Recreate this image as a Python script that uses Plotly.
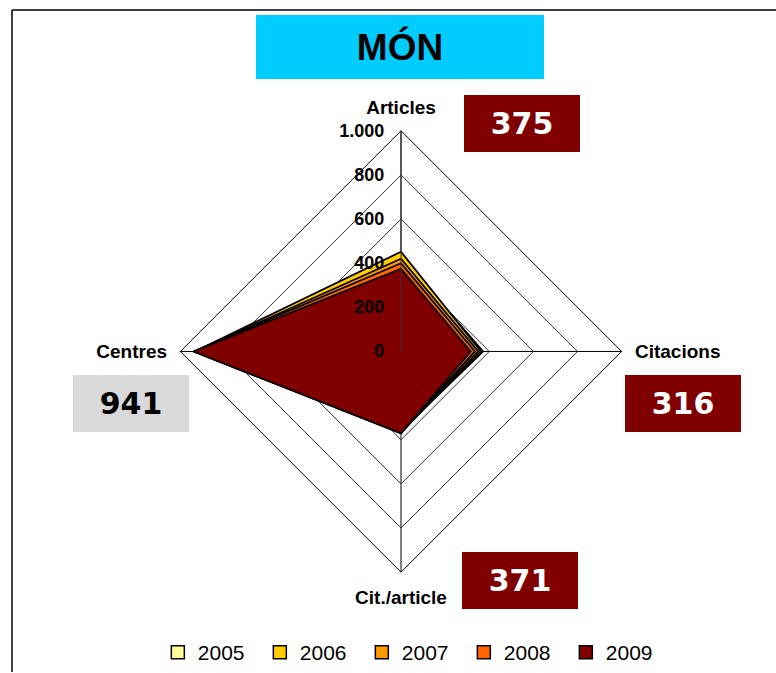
import plotly.graph_objects as go

W, H = 776, 673

categories = ["Articles", "Citacions", "Cit./article", "Centres"]
years = ["2005", "2006", "2007", "2008", "2009"]
values_2005 = [430, 372, 360, 930]
values_2006 = [452, 362, 365, 935]
values_2007 = [420, 350, 368, 938]
values_2008 = [400, 335, 370, 940]
values_2009 = [375, 316, 371, 941]
series = [values_2005, values_2006, values_2007, values_2008, values_2009]
colors = ["#FFFF99", "#FFCC00", "#FF9900", "#FF6600", "#800000"]

radial_ticks = [0, 200, 400, 600, 800, 1000]
radial_ticktext = ["0", "200", "400", "600", "800", "1.000"]

box_values = {"Articles": "375", "Citacions": "316", "Cit./article": "371", "Centres": "941"}
title_text = "MÓN"

fig = go.Figure()
for yr, vals, col in zip(years, series, colors):
    fig.add_trace(go.Scatterpolar(
        r=vals + [vals[0]], theta=categories + [categories[0]],
        mode="lines", fill="toself", fillcolor=col,
        line=dict(color="black", width=1.8),
        name=yr, showlegend=False, hoverinfo="skip"))
for yr, col in zip(years, colors):
    fig.add_trace(go.Scatterpolar(
        r=[None], theta=[categories[0]], mode="markers", name=yr,
        marker=dict(symbol="square", size=13, color=col, line=dict(color="black", width=1.5))))

def px(x):
    return x / W

def py(y):
    return 1 - y / H

cx, cy, rad = 401, 352, 221
fig.update_layout(
    width=W, height=H,
    margin=dict(l=0, r=0, t=0, b=0),
    paper_bgcolor="white", plot_bgcolor="white",
    font=dict(family="Arial, Liberation Sans", color="black"),
    polar=dict(
        domain=dict(x=[px(cx - rad), px(cx + rad)], y=[py(cy + rad), py(cy - rad)]),
        bgcolor="white",
        gridshape="linear",
        angularaxis=dict(
            direction="clockwise", rotation=90,
            showline=True, linecolor="black", linewidth=1,
            showgrid=True, gridcolor="black", gridwidth=1,
            ticks="outside", ticklen=9, tickcolor="rgba(0,0,0,0)",
            tickfont=dict(size=19, weight="bold", family="Arial, Liberation Sans", color="black")),
        radialaxis=dict(
            range=[0, 1000], angle=90, side="counterclockwise",
            tickvals=radial_ticks, ticktext=radial_ticktext, tickangle=90,
            showline=True, linecolor="#333333", linewidth=1,
            showgrid=True, gridcolor="#333333", gridwidth=1,
            ticks="outside", ticklen=10, tickcolor="rgba(0,0,0,0)",
            tickfont=dict(size=18, weight="bold", family="Arial, Liberation Sans", color="black")),
    ),
    legend=dict(orientation="h", x=0.532, xanchor="center", y=py(653), yanchor="middle",
                font=dict(size=21, family="Arial, Liberation Sans", color="black"),
                itemwidth=30, entrywidth=57, entrywidthmode="pixels", itemclick=False),
    showlegend=True,
)

ann = [
    dict(text="<b>" + title_text + "</b>", x=px(400), y=py(47), w=288, h=64, bg="#00CCFF",
         fc="black", size=37, fam="Arial, Liberation Sans"),
    dict(text=box_values["Articles"], x=px(522), y=py(123.5), w=116, h=57, bg="#800000",
         fc="white", size=30, fam="DejaVu Sans"),
    dict(text=box_values["Citacions"], x=px(683), y=py(404.5), w=116, h=57, bg="#800000",
         fc="white", size=30, fam="DejaVu Sans"),
    dict(text=box_values["Cit./article"], x=px(520), y=py(581), w=116, h=57, bg="#800000",
         fc="white", size=30, fam="DejaVu Sans"),
    dict(text=box_values["Centres"], x=px(131), y=py(404.5), w=116, h=57, bg="#D9D9D9",
         fc="black", size=30, fam="DejaVu Sans"),
]
for a in ann:
    fig.add_annotation(
        text=a["text"], x=a["x"], y=a["y"], xref="paper", yref="paper",
        xanchor="center", yanchor="middle", showarrow=False,
        width=a["w"], height=a["h"], bgcolor=a["bg"], borderpad=0, borderwidth=0,
        font=dict(size=a["size"], family=a["fam"], color=a["fc"], weight="bold"))

fig.add_shape(type="line", xref="paper", yref="paper", x0=px(12), y0=py(10), x1=1, y1=py(10),
              line=dict(color="black", width=1.5))
fig.add_shape(type="line", xref="paper", yref="paper", x0=px(12), y0=py(10), x1=px(12), y1=0,
              line=dict(color="black", width=1.5))

fig.write_html("out.html", config={"displayModeBar": False},
               post_script="document.body.style.margin='0';document.body.style.overflow='hidden';")
